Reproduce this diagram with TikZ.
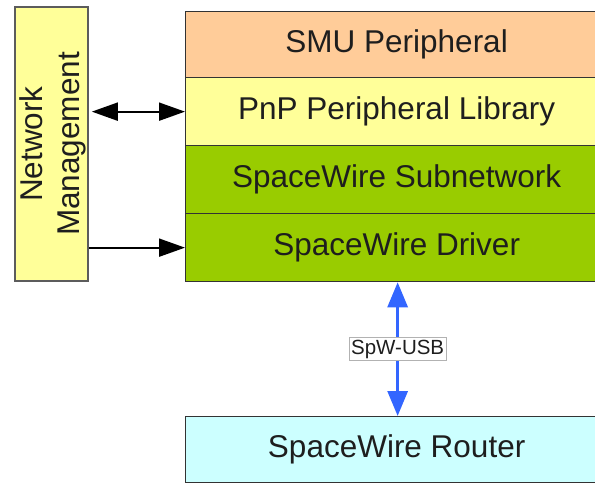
\documentclass[tikz,border=0pt]{standalone}
\usepackage{fontspec}
\setmainfont{Liberation Sans}
\usetikzlibrary{arrows.meta}
\definecolor{peach}{HTML}{FFCC99}
\definecolor{paleyellow}{HTML}{FFFF99}
\definecolor{leaf}{HTML}{99CC00}
\definecolor{paleblue}{HTML}{CCFFFF}
\definecolor{linkblue}{HTML}{3366FF}
\definecolor{edgegray}{HTML}{333333}
\definecolor{inkgray}{HTML}{1E1E1E}

\begin{document}
\begin{tikzpicture}[x=1pt,y=-1pt,
  layerbox/.style={draw=edgegray,line width=1.3pt,minimum width=422pt,
    anchor=north west,inner sep=0pt,text=inkgray,
    font=\fontsize{31.5}{37}\selectfont},
  mgmtbox/.style={draw=edgegray!80,line width=1.6pt,fill=paleyellow,
    minimum width=73pt,minimum height=274pt,inner sep=0pt},
  blackarrow/.style={line width=2pt,draw=black,
    -{Triangle[length=26pt,width=18pt]}},
  bluearrow/.style={line width=3pt,draw=linkblue,
    {Triangle[length=25pt,width=20pt]}-{Triangle[length=25pt,width=20pt]}},
  linklabel/.style={fill=white,draw=gray!60,line width=0.8pt,inner sep=2pt,
    text=inkgray,font=\fontsize{20.5}{22}\selectfont}]

\useasboundingbox (0,0) rectangle (595,484);
\clip (0,0) rectangle (595,484);

% protocol stack
\node[layerbox,fill=peach,minimum height=66pt] (smu) at (185,11) {SMU Peripheral};
\node[layerbox,fill=paleyellow,minimum height=68pt] (pnp) at (185,77) {PnP Peripheral Library};
\node[layerbox,fill=leaf,minimum height=68pt] (subnet) at (185,145) {SpaceWire Subnetwork};
\node[layerbox,fill=leaf,minimum height=68pt] (driver) at (185,213) {SpaceWire Driver};

% router below the stack
\node[layerbox,fill=paleblue,minimum height=66pt] (router) at (185,416) {SpaceWire Router};

% network management column
\node[mgmtbox] (nm) at (51.5,144) {};
\node[rotate=90,align=center,text=inkgray,font=\fontsize{31.5}{37}\selectfont]
  (nmtext) at ([xshift=1pt]nm.center) {Network\\Management};

% connectors
\draw[blackarrow,{Triangle[length=26pt,width=18pt]}-{Triangle[length=26pt,width=18pt]},shorten <=3pt]
  (nm.east |- pnp.west) -- (pnp.west);
\draw[blackarrow] (nm.east |- driver.west) -- (driver.west);
\draw[bluearrow] ([xshift=1pt]driver.south) -- ([xshift=1pt]router.north)
  node[linklabel,midway] (usb) {SpW-USB};

\end{tikzpicture}
\end{document}
